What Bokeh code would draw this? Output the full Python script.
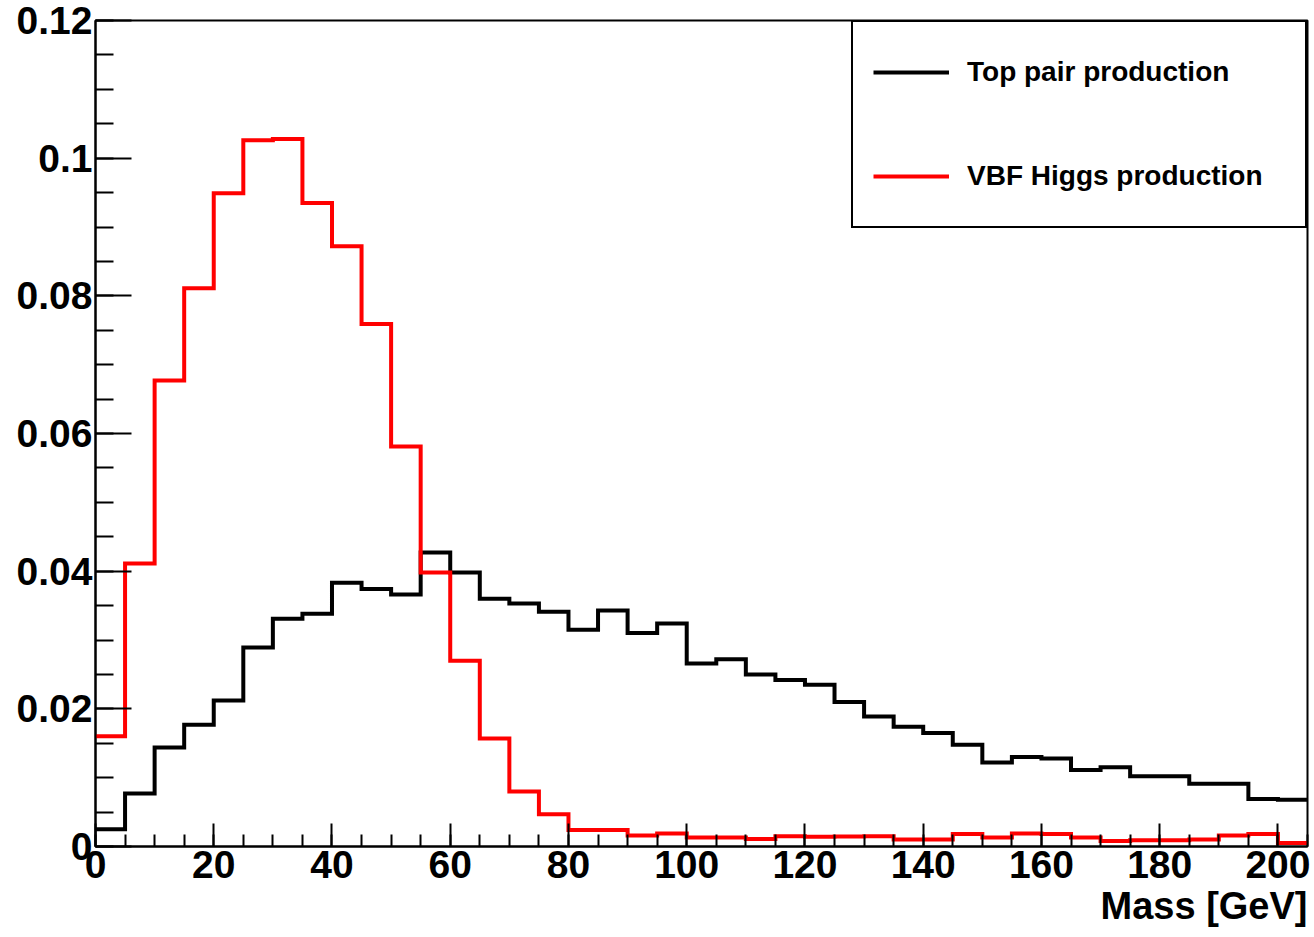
from bokeh.plotting import figure
from bokeh.models import Range1d, FixedTicker, Title
from bokeh.embed import file_html
from bokeh.resources import INLINE

# ---- data ----
bin_width = 5
n_bins = 41
bin_edges = [i * bin_width for i in range(n_bins + 1)]  # 0 .. 205

top_pair = [0.0025, 0.0077, 0.0144, 0.0177, 0.0212, 0.0289, 0.0331, 0.0338, 0.0383, 0.0374,
            0.0366, 0.0427, 0.0398, 0.0360, 0.0353, 0.0341, 0.0315, 0.0343, 0.0310, 0.0324,
            0.0266, 0.0272, 0.0250, 0.0242, 0.0235, 0.0210, 0.0189, 0.0174, 0.0165, 0.0148,
            0.0122, 0.0130, 0.0128, 0.0111, 0.0115, 0.0102, 0.0102, 0.0091, 0.0091, 0.0069,
            0.0068]
vbf_higgs = [0.0160, 0.0411, 0.0677, 0.0811, 0.0949, 0.1026, 0.1028, 0.0935, 0.0872, 0.0759,
             0.0581, 0.0398, 0.0270, 0.0157, 0.0080, 0.0047, 0.0024, 0.0024, 0.0016, 0.0019,
             0.0013, 0.0013, 0.0011, 0.0015, 0.0014, 0.00145, 0.0015, 0.0010, 0.0010, 0.0018,
             0.0013, 0.0019, 0.0018, 0.0013, 0.0008, 0.0009, 0.0009, 0.0010, 0.0016, 0.0018,
             0.0005]

x_ticks = [0, 20, 40, 60, 80, 100, 120, 140, 160, 180, 200]
x_tick_labels = ["0", "20", "40", "60", "80", "100", "120", "140", "160", "180", "200"]
x_minor = [i * 5 for i in range(42)]
y_ticks = [0, 0.02, 0.04, 0.06, 0.08, 0.1, 0.12]
y_tick_labels = ["0", "0.02", "0.04", "0.06", "0.08", "0.1", "0.12"]
y_minor = [i * 0.005 for i in range(25)]

series_names = ["Top pair production", "VBF Higgs production"]
x_title = "Mass [GeV]"

FONT = "Liberation Sans"

p = figure(width=1310, height=928, output_backend="svg", toolbar_location=None,
           x_range=Range1d(0, 205), y_range=Range1d(0, 0.12),
           min_border_left=95, min_border_right=3, min_border_top=20, min_border_bottom=10)
p.background_fill_color = "white"
p.border_fill_color = "white"
p.grid.visible = False
p.outline_line_color = "black"
p.outline_line_width = 2

p.xaxis.ticker = FixedTicker(ticks=x_ticks, minor_ticks=x_minor)
p.yaxis.ticker = FixedTicker(ticks=y_ticks, minor_ticks=y_minor)
p.xaxis.major_label_overrides = {t: l for t, l in zip(x_ticks, x_tick_labels)}
p.yaxis.major_label_overrides = {t: l for t, l in zip(y_ticks, y_tick_labels)}

for ax in (p.xaxis, p.yaxis):
    ax.axis_line_color = "black"
    ax.axis_line_width = 2
    ax.major_tick_line_color = "black"
    ax.minor_tick_line_color = "black"
    ax.major_tick_line_width = 2
    ax.minor_tick_line_width = 2
    ax.major_tick_out = 0
    ax.minor_tick_out = 0
    ax.major_label_text_font = FONT
    ax.major_label_text_font_style = "bold"
    ax.major_label_text_font_size = "39px"
    ax.major_label_text_color = "black"

p.xaxis.major_tick_in = 23
p.xaxis.minor_tick_in = 12
p.yaxis.major_tick_in = 36
p.yaxis.minor_tick_in = 18
p.xaxis.major_label_standoff = 4
p.yaxis.major_label_standoff = 3

xs = bin_edges
p.step(xs, top_pair + [top_pair[-1]], mode="after", line_color="black", line_width=4,
       line_join="miter", legend_label=series_names[0])
p.step(xs, vbf_higgs + [vbf_higgs[-1]], mode="after", line_color="#ff0000", line_width=4,
       line_join="miter", legend_label=series_names[1])

lg = p.legend[0]
lg.location = "top_right"
lg.margin = 0
lg.padding = 20
lg.spacing = 44
lg.glyph_width = 76
lg.glyph_height = 60
lg.label_height = 60
lg.label_width = 318
lg.label_standoff = 18
lg.label_text_font = FONT
lg.label_text_font_style = "bold"
lg.label_text_font_size = "28px"
lg.label_text_color = "black"
lg.border_line_color = "black"
lg.border_line_alpha = 1.0
lg.border_line_width = 2
lg.background_fill_color = "white"
lg.background_fill_alpha = 1.0

p.add_layout(Title(text=x_title, align="right", text_font=FONT, text_font_style="bold",
                   text_font_size="38px", text_color="black", standoff=4), "below")

open("out.html", "w").write(file_html(p, INLINE))
